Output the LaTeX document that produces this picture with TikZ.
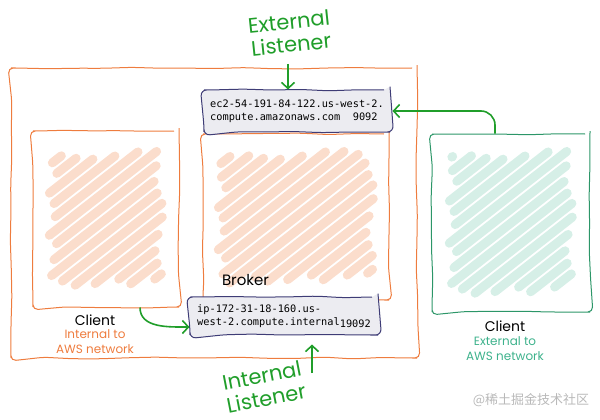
\documentclass[tikz,border=0pt]{standalone}
\usepackage{fontspec}
\setmainfont{Poppins}
\setmonofont{DejaVu Sans Mono}
\newfontfamily\cjk{Noto Sans CJK SC}
\usetikzlibrary{arrows.meta,positioning,calc,decorations.pathmorphing}
\definecolor{awsorange}{RGB}{238,124,62}
\definecolor{peach}{RGB}{251,221,204}
\definecolor{leaf}{RGB}{32,158,42}
\definecolor{sea}{RGB}{44,150,104}
\definecolor{seatext}{RGB}{62,178,140}
\definecolor{mint}{RGB}{214,239,231}
\definecolor{navy}{RGB}{62,60,118}
\definecolor{mist}{RGB}{236,236,241}
\tikzset{
  >={Straight Barb[length=6pt,width=13pt,line width=1.6pt]},
  sketch/.style={draw=#1,line width=1pt,decorate,
    decoration={random steps,segment length=28pt,amplitude=0.9pt},rounded corners=5pt},
  % scribble fill: strokes at 38 degrees kept inside a box of half sizes #2 x #3
  hatch/.style n args={3}{path picture={
    \foreach \k in {-12,...,12}{
      \pgfmathsetmacro\px{-6.8*\k}
      \pgfmathsetmacro\py{8.7*\k}
      \pgfmathsetmacro\ta{max((-#2-\px)/0.788,(-#3-\py)/0.616)+5+5*sin(\k*131)+0.08*(\k-4)^2}
      \pgfmathsetmacro\tb{min((#2-\px)/0.788,(#3-\py)/0.616)-5-5*cos(\k*71)-0.08*(\k+4)^2}
      \ifdim\ta pt<\tb pt
        \draw[line width=9pt,line cap=round,draw=#1]
          ($(path picture bounding box.center)+({(\px+0.788*\ta)*1pt},{(\py+0.616*\ta)*1pt})$)
          -- ($(path picture bounding box.center)+({(\px+0.788*\tb)*1pt},{(\py+0.616*\tb)*1pt})$);
      \fi
    }}},
  listener/.style={sketch=navy,fill=mist,rounded corners=6pt,minimum width=186pt,
    align=left,font=\ttfamily\fontsize{10.3}{12.6}\selectfont},
  clientname/.style={font=\fontsize{14}{17}\selectfont},
  note/.style={text=#1,align=center,font=\fontsize{12}{15}\selectfont},
  handtitle/.style={text=leaf,align=center,font=\fontsize{21}{23}\selectfont},
  link/.style={->,line width=1.6pt,draw=leaf,rounded corners=14pt},
}

\begin{document}
\begin{tikzpicture}[x=1pt,y=-1pt]
  \pgfmathsetseed{7}
  \useasboundingbox (0,0) rectangle (600,420);
  \node[sketch=awsorange,minimum width=406pt,minimum height=290pt] (aws) at (214,213) {};
  \node[sketch=awsorange,hatch={peach}{57}{70},minimum width=146pt,minimum height=176pt] (intclient) at (106,219) {};
  \node[sketch=awsorange,hatch={peach}{78}{68},minimum width=186pt,minimum height=166pt] (broker) at (296,217) {};
  \node[font=\fontsize{15}{18}\selectfont,anchor=base west] (brokername) at ([xshift=16pt,yshift=15pt]broker.south west) {Broker};
  \node[sketch=sea,hatch={mint}{62}{74},minimum width=158pt,minimum height=178pt] (extclient) at (511,223) {};

  \node[listener,minimum height=42pt] (extl) at (297,111) {ec2-54-191-84-122.us-west-2.\\compute.amazonaws.com~~9092};
  \node[listener,minimum width=188pt,minimum height=38pt] (intl) at (284,316) {ip-172-31-18-160.us-\\west-2.compute.internal\raisebox{-2pt}{19092}};

  \node[clientname,below=4pt of intclient,xshift=-11pt] (intname) {Client};
  \node[note=awsorange,below=-3pt of intname] (intnote) {Internal to\\AWS network};
  \node[clientname,below=5pt of extclient,xshift=-6pt] (extname) {Client};
  \node[note=seatext,below=-2pt of extname] (extnote) {External to\\AWS network};

  \node[handtitle,rotate=6] (exttitle) at (290,33) {External\\Listener};
  \node[handtitle,rotate=11] (inttitle) at (264,387) {Internal\\Listener};
  \coordinate (exttip) at (288,64);
  \coordinate (inttip) at (312,373);

  \draw[link] (exttip) -- (exttip |- extl.north);
  \draw[link,shorten >=9pt] (inttip) -- (inttip |- intl.south);
  \draw[link,shorten >=2pt] ([xshift=-16pt]extclient.north) |- (extl.east);
  \draw[link] ([xshift=34pt]intclient.south) to[out=-90,in=180] ([yshift=-11pt]intl.west);

  \node[font=\cjk\fontsize{13}{15}\selectfont,text=gray!55] (mark) at (531,400) {@稀土掘金技术社区};
\end{tikzpicture}
\end{document}
